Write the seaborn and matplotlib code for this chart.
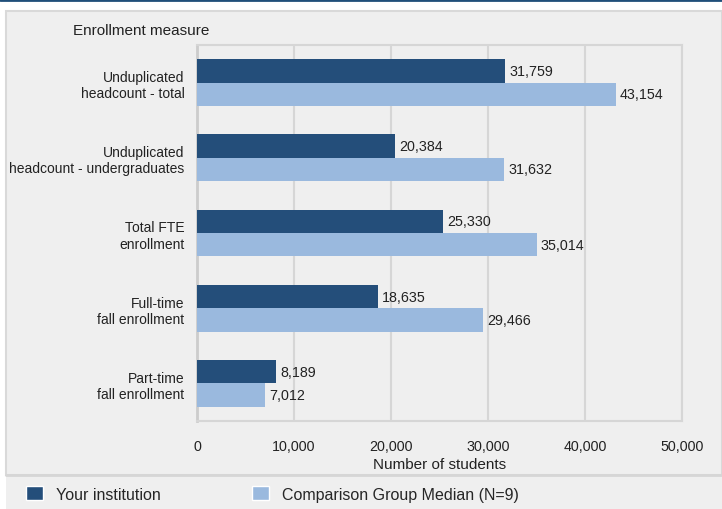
import matplotlib
matplotlib.use("Agg")
import matplotlib.pyplot as plt
from matplotlib.patches import Rectangle, Patch
from matplotlib.lines import Line2D
from matplotlib.ticker import MultipleLocator, FuncFormatter
import seaborn as sns
import pandas as pd

# chart data
measures = [
    "Unduplicated\nheadcount - total",
    "Unduplicated\nheadcount - undergraduates",
    "Total FTE\nenrollment",
    "Full-time\nfall enrollment",
    "Part-time\nfall enrollment",
]
your_institution = [31759, 20384, 25330, 18635, 8189]
comparison_median = [43154, 31632, 35014, 29466, 7012]
series_names = ["Your institution", "Comparison Group Median (N=9)"]

DARK = "#244e7a"
LIGHT = "#9ab9de"
BG = "#efefef"
GRID = "#d6d6d6"

df = pd.DataFrame({
    "measure": measures * 2,
    "value": your_institution + comparison_median,
    "series": [series_names[0]] * len(measures) + [series_names[1]] * len(measures),
})

sns.set_style("white")
plt.rcParams["font.family"] = ["Liberation Sans", "DejaVu Sans"]
plt.rcParams["font.size"] = 10

fig = plt.figure(figsize=(7.22, 5.10), dpi=100, facecolor="white")

# background panels (figure pixel coords converted to fractions)
W, H = 722, 510
def box(x0, y0, x1, y1, **kw):
    fig.add_artist(Rectangle((x0 / W, 1 - y1 / H), (x1 - x0) / W, (y1 - y0) / H,
                             transform=fig.transFigure, **kw))

box(6, 12, 722, 476, facecolor=BG, edgecolor="#d9d9d9", linewidth=1.5, zorder=0)
box(6, 477, 722, 512, facecolor=BG, edgecolor="none", zorder=0)
fig.add_artist(Line2D([6 / W, 1], [1 - 476 / H] * 2, transform=fig.transFigure,
                      color="#d6d6d6", linewidth=2, zorder=1))
fig.add_artist(Line2D([0, 1], [1 - 1 / H] * 2, transform=fig.transFigure,
                      color="#1f4e79", linewidth=2, zorder=1))

ax = fig.add_axes([197 / W, 1 - 422 / H, (682 - 197) / W, (422 - 46) / H])
ax.set_facecolor(BG)

sns.barplot(data=df, y="measure", x="value", hue="series", orient="h",
            palette=[DARK, LIGHT], width=0.62, gap=0, saturation=1,
            linewidth=0, legend=False, ax=ax, zorder=3)

for cont in ax.containers:
    ax.bar_label(cont, labels=[f"{v:,.0f}" for v in cont.datavalues],
                 padding=3, fontsize=10.3, color="#222222")

ax.set_xlim(0, 50000)
ax.xaxis.set_major_locator(MultipleLocator(10000))
ax.xaxis.set_minor_locator(MultipleLocator(5000))
ax.xaxis.set_major_formatter(FuncFormatter(lambda v, p: f"{v:,.0f}"))
ax.grid(axis="x", which="major", color=GRID, linewidth=1.5, zorder=0)
ax.set_axisbelow(True)

ax.tick_params(axis="x", which="major", direction="out", length=6, width=1.5,
               color=GRID, labelsize=10.3, labelcolor="#222222", pad=7)
ax.tick_params(axis="x", which="minor", direction="out", length=3, width=1.5,
               color=GRID)
ax.tick_params(axis="y", length=0, pad=9, labelsize=10, labelcolor="#222222")
for lbl in ax.get_yticklabels():
    lbl.set_horizontalalignment("right")
    lbl.set_multialignment("right")

for side in ["top", "right", "bottom"]:
    ax.spines[side].set_color(GRID)
    ax.spines[side].set_linewidth(1.5)
ax.spines["left"].set_color("#cccccc")
ax.spines["left"].set_linewidth(2)

ax.set_ylabel("")
ax.set_xlabel("Number of students", fontsize=11, color="#222222", labelpad=3)

fig.text(73 / W, 1 - 31 / H, "Enrollment measure", fontsize=11,
         va="center", ha="left", color="#222222")

handles = [Patch(facecolor=DARK), Patch(facecolor=LIGHT)]
fig.legend(handles, series_names, loc="center left",
           bbox_to_anchor=(20 / W, 1 - 495 / H), ncol=2, frameon=False,
           fontsize=11.5, handlelength=1.06, handleheight=1.0,
           handletextpad=0.8, columnspacing=5.7, borderaxespad=0)

fig.savefig("out.png", dpi=100, facecolor="white")
